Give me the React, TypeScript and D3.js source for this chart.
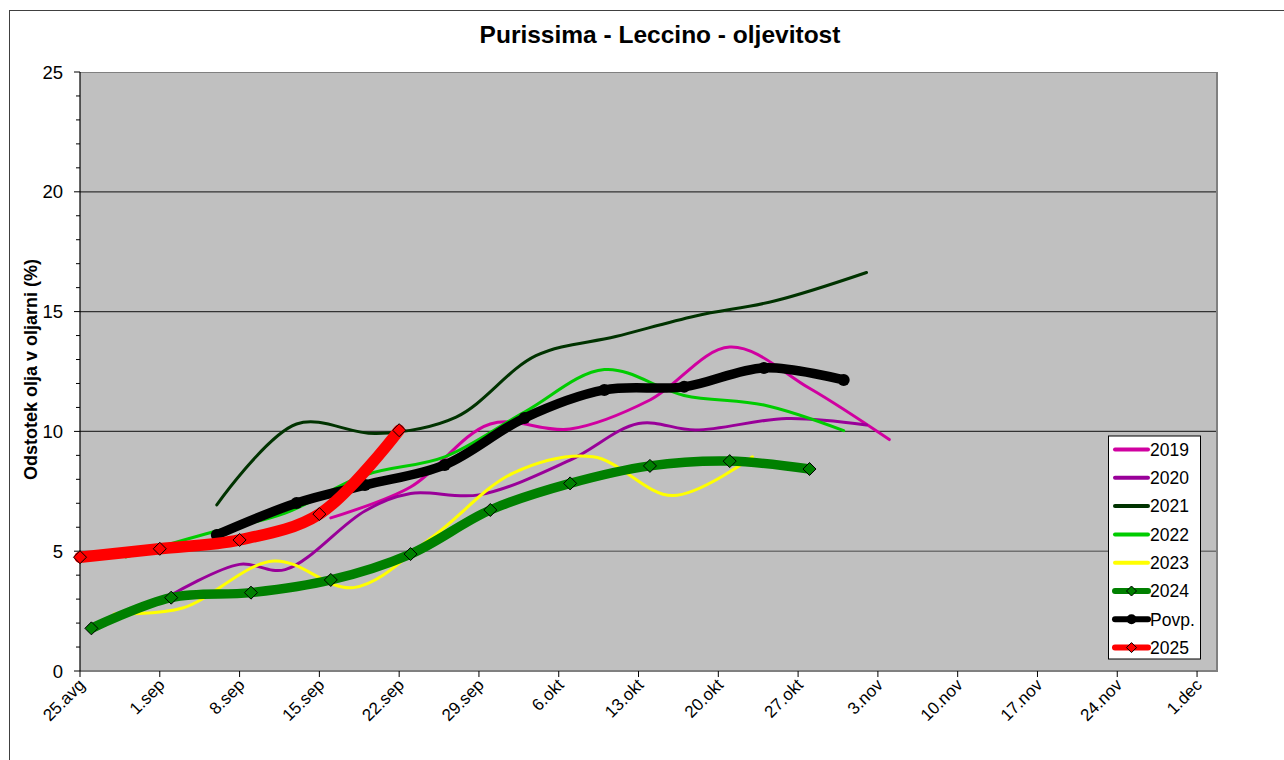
import React from "react";
import * as d3 from "d3";

const TITLE = "Purissima - Leccino - oljevitost";
const Y_LABEL = "Odstotek olja v oljarni (%)";
const X_TICK_LABELS = ["25.avg", "1.sep", "8.sep", "15.sep", "22.sep", "29.sep", "6.okt", "13.okt", "20.okt", "27.okt", "3.nov", "10.nov", "17.nov", "24.nov", "1.dec"];
const Y_TICKS = [0, 5, 10, 15, 20, 25];

const d2019 = ["2025-09-16", "2025-09-23", "2025-09-30", "2025-10-07", "2025-10-14", "2025-10-21", "2025-10-28", "2025-11-04"];
const v2019 = [6.39, 7.68, 10.31, 10.1, 11.31, 13.52, 11.8, 9.66];

const d2020 = ["2025-09-02", "2025-09-08", "2025-09-12", "2025-09-19", "2025-09-23", "2025-09-29", "2025-10-07", "2025-10-13", "2025-10-18", "2025-10-26", "2025-11-02"];
const v2020 = [3.17, 4.45, 4.23, 6.68, 7.41, 7.35, 8.8, 10.33, 10.06, 10.54, 10.27];

const d2021 = ["2025-09-06", "2025-09-13", "2025-09-20", "2025-09-27", "2025-10-04", "2025-10-11", "2025-10-18", "2025-10-25", "2025-11-02"];
const v2021 = [6.93, 10.31, 9.91, 10.6, 13.16, 13.96, 14.82, 15.45, 16.63];

const d2022 = ["2025-08-29", "2025-09-05", "2025-09-12", "2025-09-19", "2025-09-26", "2025-10-03", "2025-10-10", "2025-10-17", "2025-10-24", "2025-10-31"];
const v2022 = [4.76, 5.72, 6.59, 8.18, 8.94, 10.81, 12.58, 11.5, 11.1, 10.03];

const d2023 = ["2025-08-28", "2025-09-03", "2025-09-11", "2025-09-18", "2025-09-25", "2025-10-02", "2025-10-09", "2025-10-16", "2025-10-23"];
const v2023 = [2.38, 2.63, 4.59, 3.48, 5.63, 8.26, 8.94, 7.32, 8.94];

const d2024 = ["2025-08-26", "2025-09-02", "2025-09-09", "2025-09-16", "2025-09-23", "2025-09-30", "2025-10-07", "2025-10-14", "2025-10-21", "2025-10-28"];
const v2024 = [1.78, 3.06, 3.27, 3.8, 4.88, 6.72, 7.83, 8.56, 8.76, 8.43];

const dPovp = ["2025-09-06", "2025-09-13", "2025-09-19", "2025-09-26", "2025-10-03", "2025-10-10", "2025-10-17", "2025-10-24", "2025-10-31"];
const vPovp = [5.68, 7.01, 7.76, 8.6, 10.56, 11.73, 11.86, 12.65, 12.15];

const d2025 = ["2025-08-25", "2025-09-01", "2025-09-08", "2025-09-15", "2025-09-22"];
const v2025 = [4.75, 5.1, 5.47, 6.55, 10.05];

type Marker = "none" | "diamond" | "circle";
interface Series { name: string; dates: string[]; values: number[]; color: string; width: number; marker: Marker; markerFill: string; legendWidth: number; }

const SERIES: Series[] = [
  { name: "2019", dates: d2019, values: v2019, color: "#D000A0", width: 3, marker: "none", markerFill: "", legendWidth: 4 },
  { name: "2020", dates: d2020, values: v2020, color: "#990099", width: 3, marker: "none", markerFill: "", legendWidth: 4 },
  { name: "2021", dates: d2021, values: v2021, color: "#003300", width: 3, marker: "none", markerFill: "", legendWidth: 4 },
  { name: "2022", dates: d2022, values: v2022, color: "#00CC00", width: 3, marker: "none", markerFill: "", legendWidth: 4 },
  { name: "2023", dates: d2023, values: v2023, color: "#FFFF00", width: 3, marker: "none", markerFill: "", legendWidth: 4 },
  { name: "2024", dates: d2024, values: v2024, color: "#008000", width: 9.5, marker: "diamond", markerFill: "#008000", legendWidth: 6 },
  { name: "Povp.", dates: dPovp, values: vPovp, color: "#000000", width: 9.5, marker: "circle", markerFill: "#000000", legendWidth: 6 },
  { name: "2025", dates: d2025, values: v2025, color: "#FF0000", width: 11.5, marker: "diamond", markerFill: "#FF0000", legendWidth: 6 },
];

const FONT = "Arial, 'Liberation Sans', sans-serif";
const parse = d3.utcParse("%Y-%m-%d");
const START = parse("2025-08-25") as Date;

const PL = 80, PR = 1217, PT = 72, PB = 671;

export default function App() {
  const x = d3.scaleUtc().domain([START, d3.utcHour.offset(START, 99.75 * 24)]).range([PL, PR]);
  const y = d3.scaleLinear().domain([0, 25]).range([PB, PT]);
  const line = d3.line<[number, number]>().x(d => d[0]).y(d => d[1]).curve(d3.curveCatmullRom.alpha(0.5));
  const tickDates = X_TICK_LABELS.map((_, i) => d3.utcDay.offset(START, i * 7));
  const minor = d3.range(0, 26, 1);

  const diamond = (cx: number, cy: number, r: number) => `M${cx},${cy - r}L${cx + r},${cy}L${cx},${cy + r}L${cx - r},${cy}Z`;

  const legendX = 1108.5, legendY = 436, legendRow = 28.3;

  return (
    <svg width={1284} height={760} style={{ position: "absolute", left: 0, top: 0, background: "#fff" }} fontFamily={FONT}>
      <rect x={9.5} y={10.5} width={1300} height={800} fill="#fff" stroke="#404040" strokeWidth={1} />
      <text x={660} y={43} textAnchor="middle" fontSize={24.5} fontWeight="bold">{TITLE}</text>
      <rect x={PL} y={PT} width={PR - PL} height={PB - PT} fill="#C0C0C0" />
      {[5, 10, 15, 20].map(v => (
        <line key={v} x1={PL} x2={PR} y1={y(v)} y2={y(v)} stroke={v === 5 ? "#707070" : "#333333"} strokeWidth={v === 5 ? 1.6 : 1.2} />
      ))}
      <line x1={PL} x2={PR} y1={PT + 0.5} y2={PT + 0.5} stroke="#808080" strokeWidth={1} />
      <line x1={PR} x2={PR} y1={PT} y2={PB} stroke="#808080" strokeWidth={2} />
      <line x1={PL} x2={PR + 1} y1={PB} y2={PB} stroke="#808080" strokeWidth={2} />
      <line x1={PL} x2={PL} y1={PT} y2={PB} stroke="#000" strokeWidth={1.2} />
      {minor.map(v => (
        <line key={v} x1={PL - (v % 5 === 0 ? 6 : 4)} x2={PL} y1={y(v)} y2={y(v)} stroke="#000" strokeWidth={1} />
      ))}
      {Y_TICKS.map(v => (
        <text key={v} x={63} y={y(v)} dy="0.36em" textAnchor="end" fontSize={18.5}>{v}</text>
      ))}
      {tickDates.map((d, i) => (
        <g key={i}>
          <line x1={x(d)} x2={x(d)} y1={PB} y2={PB + 6} stroke="#000" strokeWidth={1} />
          <text transform={`translate(${x(d) + 6},${PB + 15}) rotate(-45)`} textAnchor="end" fontSize={17}>{X_TICK_LABELS[i]}</text>
        </g>
      ))}
      <text transform={`translate(37,${(PT + PB) / 2 - 2}) rotate(-90)`} textAnchor="middle" fontSize={18} fontWeight="bold">{Y_LABEL}</text>

      {SERIES.map(s => {
        const pts: [number, number][] = s.dates.map((d, i) => [x(parse(d) as Date), y(s.values[i])]);
        return (
          <g key={s.name}>
            <path d={line(pts) || ""} fill="none" stroke={s.color} strokeWidth={s.width} strokeLinecap="round" strokeLinejoin="round" />
            {s.marker === "diamond" && pts.map((p, i) => (
              <path key={i} d={diamond(p[0], p[1], 6.5)} fill={s.markerFill} stroke="#000" strokeWidth={1} />
            ))}
            {s.marker === "circle" && pts.map((p, i) => (
              <circle key={i} cx={p[0]} cy={p[1]} r={6} fill={s.markerFill} />
            ))}
          </g>
        );
      })}

      <rect x={legendX} y={legendY} width={92} height={223} fill="#fff" stroke="#000" strokeWidth={1} />
      {SERIES.map((s, i) => {
        const cy = legendY + 13.5 + i * legendRow;
        return (
          <g key={s.name}>
            <line x1={1115} x2={1148} y1={cy} y2={cy} stroke={s.color} strokeWidth={s.legendWidth} strokeLinecap="round" />
            {s.marker === "diamond" && <path d={diamond(1131.5, cy, 5)} fill={s.markerFill} stroke="#000" strokeWidth={1} />}
            {s.marker === "circle" && <circle cx={1131.5} cy={cy} r={5} fill={s.markerFill} />}
            <text x={1150} y={cy} dy="0.36em" fontSize={17.5}>{s.name}</text>
          </g>
        );
      })}
    </svg>
  );
}
